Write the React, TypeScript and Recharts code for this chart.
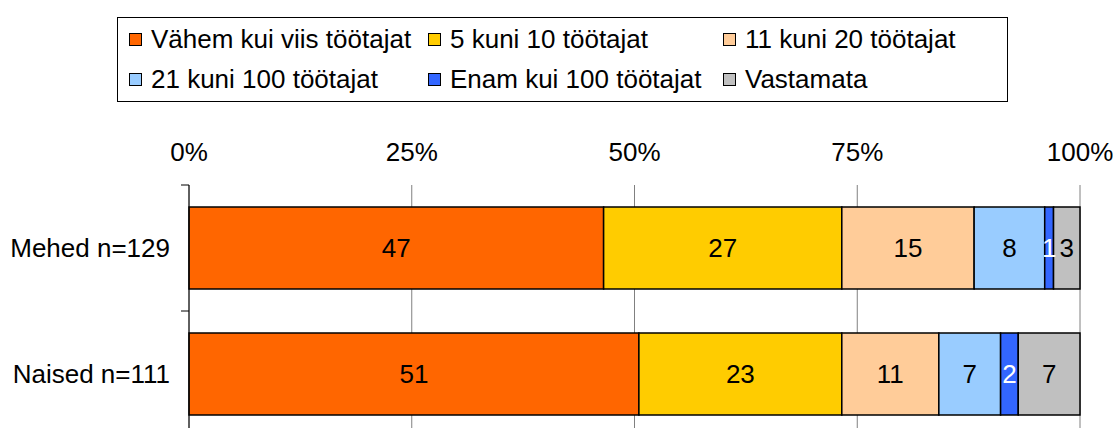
import React from 'react';
import { BarChart, Bar, XAxis, YAxis, CartesianGrid, Legend, LabelList } from 'recharts';

const CATEGORIES = ['Mehed n=129', 'Naised n=111'];
const SERIES_KEYS = ['vahem5', 'k5_10', 'k11_20', 'k21_100', 'enam100', 'vastamata'];
const SERIES_NAMES = [
  'Vähem kui viis töötajat',
  '5 kuni 10 töötajat',
  '11 kuni 20 töötajat',
  '21 kuni 100 töötajat',
  'Enam kui 100 töötajat',
  'Vastamata',
];
const VAHEM5 = [47, 51];
const K5_10 = [27, 23];
const K11_20 = [15, 11];
const K21_100 = [8, 7];
const ENAM100 = [1, 2];
const VASTAMATA = [3, 7];
const X_TICKS = [0, 0.25, 0.5, 0.75, 1];

const COLORS = ['#FF6600', '#FFCC00', '#FFCC99', '#99CCFF', '#3366FF', '#C0C0C0'];
const LABEL_COLORS = ['#000', '#000', '#000', '#000', '#fff', '#000'];
const FONT = '"Liberation Sans", Arial, sans-serif';
const FS = 26;

const W = 1113;
const H = 450;
const MARGIN = { top: 155, right: 33, bottom: 13, left: 0 };
const X_AXIS_H = 30;
const Y_AXIS_W = 189;
const PLOT_H = H - MARGIN.top - X_AXIS_H - MARGIN.bottom;
const BAND = PLOT_H / CATEGORIES.length;

const VALUES = [VAHEM5, K5_10, K11_20, K21_100, ENAM100, VASTAMATA];
const data = CATEGORIES.map((name, i) => {
  const row: any = { name };
  SERIES_KEYS.forEach((k, s) => {
    row[k] = VALUES[s][i];
  });
  return row;
});

const YTick = (props: any) => {
  const { x, y, payload } = props;
  const top = y - BAND / 2;
  return (
    <g>
      <line x1={x - 8} x2={x} y1={top} y2={top} stroke="#000" strokeWidth={1} />
      <text x={x - 19} y={y} textAnchor="end" dominantBaseline="central" fontSize={FS} fontFamily={FONT} fill="#000">
        {payload.value}
      </text>
    </g>
  );
};

const LegendBox = (props: any) => {
  const items = (props.payload || [])
    .filter((p: any) => SERIES_NAMES.includes(p.value))
    .sort((a: any, b: any) => SERIES_NAMES.indexOf(a.value) - SERIES_NAMES.indexOf(b.value));
  const cols = [11, 310, 605];
  return (
    <div style={{
      position: 'relative',
      width: 889,
      height: 83,
      border: '1px solid #000',
      background: '#fff',
      fontFamily: FONT,
      fontSize: FS,
      color: '#000',
    }}>
      {items.map((item: any, i: number) => (
        <div key={`leg-${i}`} style={{
          position: 'absolute',
          left: cols[i % 3],
          top: i < 3 ? 5 : 45,
          display: 'flex',
          alignItems: 'center',
          whiteSpace: 'nowrap',
          lineHeight: '32px',
        }}>
          <span style={{
            display: 'inline-block',
            width: 11,
            height: 11,
            background: item.color,
            border: '1px solid #000',
            marginRight: 9,
          }} />
          {item.value}
        </div>
      ))}
    </div>
  );
};

export default function App() {
  return (
    <div style={{ width: W, height: 428, overflow: 'hidden', position: 'relative', background: '#fff' }}>
      <style>{'body{margin:0;overflow:hidden;}'}</style>
      <BarChart
        width={W}
        height={H}
        data={data}
        layout="vertical"
        stackOffset="expand"
        margin={MARGIN}
      >
        <CartesianGrid horizontal={false} stroke="#808080" strokeWidth={1} />
        <XAxis
          type="number"
          orientation="top"
          domain={[0, 1]}
          ticks={X_TICKS}
          height={X_AXIS_H}
          axisLine={false}
          tickLine={false}
          tickSize={0}
          tickMargin={24}
          tickFormatter={(v: number) => `${Math.round(v * 100)}%`}
          tick={{ fontSize: FS, fontFamily: FONT, fill: '#000' }}
          interval={0}
        />
        <YAxis
          type="category"
          dataKey="name"
          width={Y_AXIS_W}
          axisLine={{ stroke: '#000', strokeWidth: 1 }}
          tickLine={false}
          tickSize={0}
          tickMargin={0}
          tick={<YTick />}
        />
        <Legend
          layout="horizontal"
          verticalAlign="middle"
          align="center"
          content={<LegendBox />}
          wrapperStyle={{ position: 'absolute', top: 17, left: 117, width: 891, height: 85 }}
        />
        {SERIES_KEYS.map((k, s) => (
          <Bar
            key={k}
            dataKey={k}
            name={SERIES_NAMES[s]}
            stackId="a"
            fill={COLORS[s]}
            stroke="#000"
            strokeWidth={1.5}
            barSize={82}
            isAnimationActive={false}
          >
            <LabelList
              dataKey={k}
              position="center"
              fill={LABEL_COLORS[s]}
              fontSize={FS}
              fontFamily={FONT}
            />
          </Bar>
        ))}
      </BarChart>
    </div>
  );
}
